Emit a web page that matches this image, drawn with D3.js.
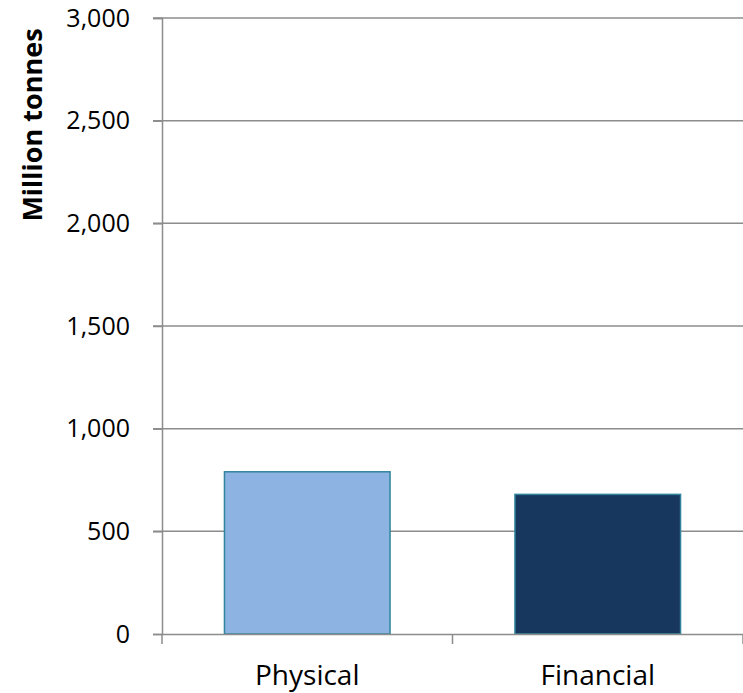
<!DOCTYPE html>
<html><head><meta charset="utf-8">
<script src="https://cdn.jsdelivr.net/npm/d3@7"></script>
<style>body{margin:0;background:#fff}svg{display:block}</style>
</head><body>
<script>
const categories = ["Physical", "Financial"];
const values = [790, 680];
const colors = ["#8db3e2", "#17375e"];
const yTicks = [0, 500, 1000, 1500, 2000, 2500, 3000];
const yTitle = "Million tonnes";

const W = 743, H = 693;
const m = {left: 162, right: 0, top: 18, bottom: 59};
const svg = d3.select("body").append("svg").attr("width", W).attr("height", H);

const x = d3.scaleBand().domain(categories).range([m.left, W - m.right]).paddingInner(0.43).paddingOuter(0.215);
const xb = d3.scaleBand().domain(categories).range([m.left, W - m.right]);
const y = d3.scaleLinear().domain([0, 3000]).range([H - m.bottom, m.top]);
const grid = "#8c8c8c";
const fontNum = "'Open Sans', sans-serif";

// gridlines
svg.append("g").selectAll("line").data(yTicks.filter(d => d > 0)).join("line")
  .attr("x1", m.left - 9).attr("x2", W - m.right)
  .attr("y1", d => y(d)).attr("y2", d => y(d))
  .attr("stroke", grid).attr("stroke-width", 1.5);

// y axis
const ya = svg.append("g").attr("transform", `translate(${m.left},0)`)
  .call(d3.axisLeft(y).tickValues(yTicks).tickFormat(d3.format(",")).tickSize(9).tickPadding(23));
ya.select(".domain").attr("stroke", grid).attr("stroke-width", 1.5);
ya.selectAll(".tick line").attr("stroke", grid).attr("stroke-width", 1.5);
ya.selectAll("text").attr("font-family", fontNum).attr("font-size", 25).attr("fill", "#000");

// bars
svg.append("g").selectAll("rect").data(categories).join("rect")
  .attr("x", d => x(d)).attr("width", x.bandwidth())
  .attr("y", (d, i) => y(values[i])).attr("height", (d, i) => y(0) - y(values[i]))
  .attr("fill", (d, i) => colors[i]).attr("stroke", "#31849b").attr("stroke-width", 1.5);

// x axis
const xa = svg.append("g").attr("transform", `translate(0,${y(0)})`)
  .call(d3.axisBottom(xb).tickSize(0).tickPadding(31));
xa.select(".domain").attr("stroke", grid).attr("stroke-width", 1.5);
xa.selectAll("text").attr("font-family", fontNum).attr("font-size", 28).attr("fill", "#000");
// category boundary ticks
const bounds = [m.left, xb(categories[1]), W - m.right];
svg.append("g").selectAll("line").data(bounds).join("line")
  .attr("x1", d => d).attr("x2", d => d)
  .attr("y1", y(0)).attr("y2", y(0) + 10)
  .attr("stroke", grid).attr("stroke-width", 1.5);

// y title
svg.append("text")
  .attr("transform", `translate(42,125) rotate(-90)`)
  .attr("text-anchor", "middle")
  .attr("font-family", "'Open Sans', sans-serif").attr("font-weight", "bold")
  .attr("font-size", 27).text(yTitle);
</script>
</body></html>
